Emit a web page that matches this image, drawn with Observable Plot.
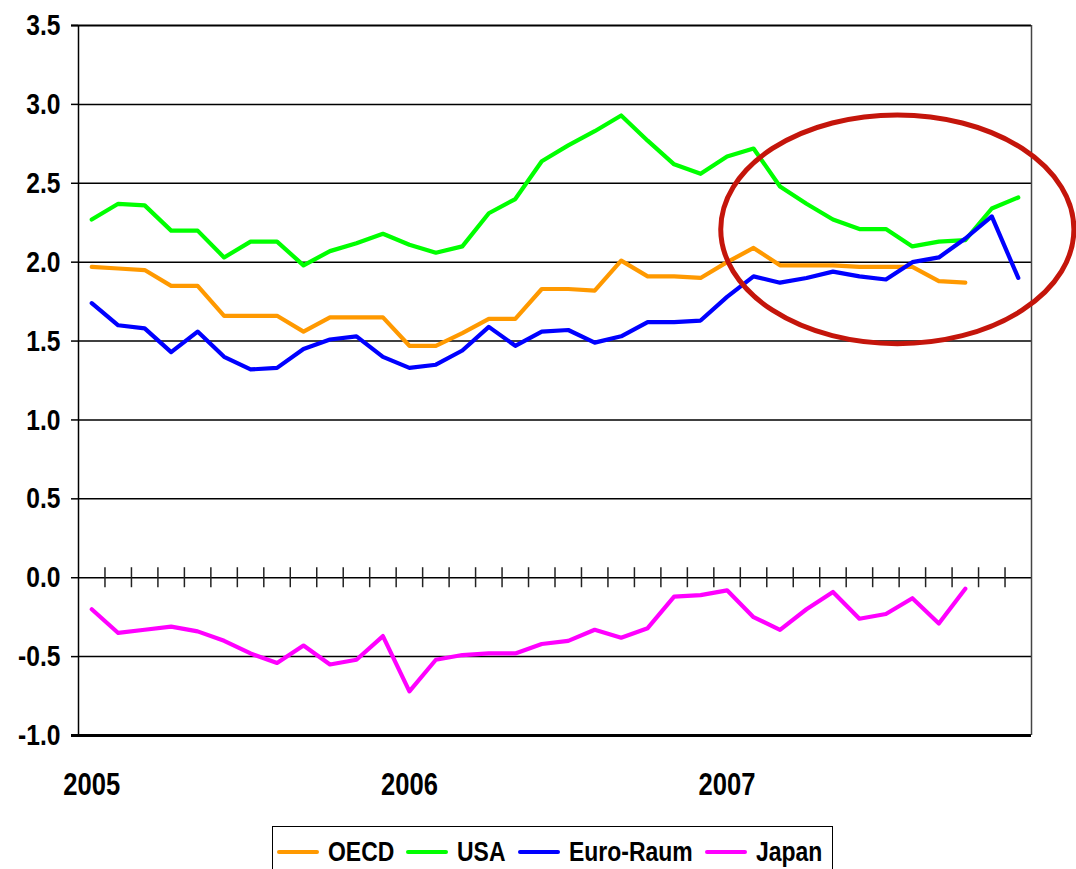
<!DOCTYPE html>
<html>
<head>
<meta charset="utf-8">
<script src="https://cdn.jsdelivr.net/npm/d3@7"></script>
<script src="https://cdn.jsdelivr.net/npm/@observablehq/plot@0.6"></script>
<style>
  html, body { margin: 0; padding: 0; background: #fff; }
  #wrap { position: relative; width: 1076px; height: 869px; overflow: hidden; background: #fff; }
  #chart { position: absolute; left: 0; top: 0; }
  #legend {
    position: absolute; left: 272px; top: 826px; width: 561px; height: 52px;
    border: 1.5px solid #000; box-sizing: border-box;
    display: flex; align-items: center; padding-left: 4px;
    font-family: "Liberation Sans", Arial, sans-serif;
    font-weight: bold; font-size: 27px; color: #000;
  }
  #legend .sw { width: 42px; height: 4.5px; border-radius: 2px; margin-right: 9px; flex: none; }
  #legend .lb { margin-right: 12px; white-space: nowrap; flex: none; overflow: visible; }
  #legend .lb span { display: inline-block; transform: scaleX(0.85); transform-origin: left center; }
</style>
</head>
<body>
<div id="wrap">
  <div id="chart"></div>
  <div id="legend"></div>
</div>
<script>
// ---- data ----
const yearLabels = ["2005", "2006", "2007"];
const yearTickMonths = [0, 12, 24];
const seriesNames = ["OECD", "USA", "Euro-Raum", "Japan"];
const seriesColors = ["#FF9900", "#00FF00", "#0000FF", "#FF00FF"];
const yTicks = [-1, -0.5, 0, 0.5, 1, 1.5, 2, 2.5, 3, 3.5];

const oecd = [1.97,1.96,1.95,1.85,1.85,1.66,1.66,1.66,1.56,1.65,1.65,1.65,1.47,1.47,1.55,1.64,1.64,1.83,1.83,1.82,2.01,1.91,1.91,1.90,2.00,2.09,1.98,1.98,1.98,1.97,1.97,1.97,1.88,1.87];
const usa = [2.27,2.37,2.36,2.20,2.20,2.03,2.13,2.13,1.98,2.07,2.12,2.18,2.11,2.06,2.10,2.31,2.40,2.64,2.74,2.83,2.93,2.77,2.62,2.56,2.67,2.72,2.48,2.37,2.27,2.21,2.21,2.10,2.13,2.14,2.34,2.41];
const euro = [1.74,1.60,1.58,1.43,1.56,1.40,1.32,1.33,1.45,1.51,1.53,1.40,1.33,1.35,1.44,1.59,1.47,1.56,1.57,1.49,1.53,1.62,1.62,1.63,1.78,1.91,1.87,1.90,1.94,1.91,1.89,2.00,2.03,2.15,2.29,1.90];
const japan = [-0.20,-0.35,-0.33,-0.31,-0.34,-0.40,-0.48,-0.54,-0.43,-0.55,-0.52,-0.37,-0.72,-0.52,-0.49,-0.48,-0.48,-0.42,-0.40,-0.33,-0.38,-0.32,-0.12,-0.11,-0.08,-0.25,-0.33,-0.20,-0.09,-0.26,-0.23,-0.13,-0.29,-0.07];

// highlight ellipse annotation (center month index / value, radii in months / value units)
const highlight = {month: 30.45, value: 2.205, rMonths: 6.67, rValue: 0.725};

// ---- build ----
const seriesValues = [oecd, usa, euro, japan];
const rows = seriesNames.flatMap((name, s) => seriesValues[s].map((v, i) => ({series: name, month: i, value: v})));
const nMonths = usa.length;
const monthBoundaries = d3.range(nMonths - 1).map(i => i + 0.5);

const FONT = '"Liberation Sans", Arial, sans-serif';

const plot = Plot.plot({
  width: 1076,
  height: 812,
  marginLeft: 78,
  marginRight: 45,
  marginTop: 25,
  marginBottom: 77,
  style: {fontFamily: FONT, fontWeight: "bold", background: "#fff", color: "#000", overflow: "visible"},
  x: {domain: [-0.5, nMonths - 0.5]},
  y: {domain: [-1, 3.5]},
  color: {domain: seriesNames, range: seriesColors},
  marks: [
    Plot.ruleY(yTicks.filter(d => d > -1 && d < 3.5), {stroke: "#000", strokeWidth: 1.5}),
    Plot.ruleY([3.5], {stroke: "#000", strokeWidth: 2.2, insetLeft: -7}),
    Plot.ruleY([-1], {stroke: "#000", strokeWidth: 3, insetLeft: -7}),
    Plot.ruleX([-0.5], {stroke: "#000", strokeWidth: 1.5}),
    Plot.ruleX([nMonths - 0.5], {stroke: "#444", strokeWidth: 1.5}),
    Plot.ruleX(monthBoundaries, {y1: 0, y2: 0, insetTop: -10, insetBottom: -10, stroke: "#222", strokeWidth: 1.5}),
    Plot.axisY({ticks: yTicks, tickFormat: d => d.toFixed(1), tickSize: 7, tickPadding: 11, fontSize: 30, fontWeight: "bold", stroke: "#000", strokeWidth: 1.5, label: null}),
    Plot.axisX({ticks: yearTickMonths, tickFormat: d => yearLabels[yearTickMonths.indexOf(d)], tickSize: 0, tickPadding: 37, fontSize: 32, fontWeight: "bold", label: null}),
    Plot.lineY(rows, {x: "month", y: "value", z: "series", stroke: "series", strokeWidth: 4.2, strokeLinejoin: "round", strokeLinecap: "round"})
  ]
});
document.getElementById("chart").appendChild(plot);

// condense axis text horizontally (reference uses a narrow bold face)
d3.select(plot).selectAll("text").each(function () {
  const anchor = getComputedStyle(this).textAnchor;
  const s = anchor === "end" ? 0.82 : anchor === "middle" ? 0.8 : 1;
  if (s === 1) return;
  const b = this.getBBox();
  const ax = anchor === "end" ? b.x + b.width : b.x + b.width / 2;
  const t = this.getAttribute("transform") || "";
  this.setAttribute("transform", `${t} translate(${ax},0) scale(${s},1) translate(${-ax},0)`);
});

// annotation ellipse positioned through the plot's scales
const xs = plot.scale("x"), ys = plot.scale("y");
const cx = xs.apply(highlight.month), cy = ys.apply(highlight.value);
const rx = xs.apply(highlight.month + highlight.rMonths) - cx;
const ry = ys.apply(highlight.value - highlight.rValue) - cy;
d3.select(plot).append("ellipse")
  .attr("cx", cx).attr("cy", cy).attr("rx", rx).attr("ry", ry)
  .attr("fill", "none").attr("stroke", "#C4150B").attr("stroke-width", 5);

// legend
const legend = d3.select("#legend");
seriesNames.forEach((name, i) => {
  legend.append("div").attr("class", "sw").style("background", seriesColors[i]);
  const lb = legend.append("div").attr("class", "lb");
  const span = lb.append("span").text(name);
  lb.style("width", (span.node().offsetWidth * 0.85) + "px");
});
</script>
</body>
</html>
